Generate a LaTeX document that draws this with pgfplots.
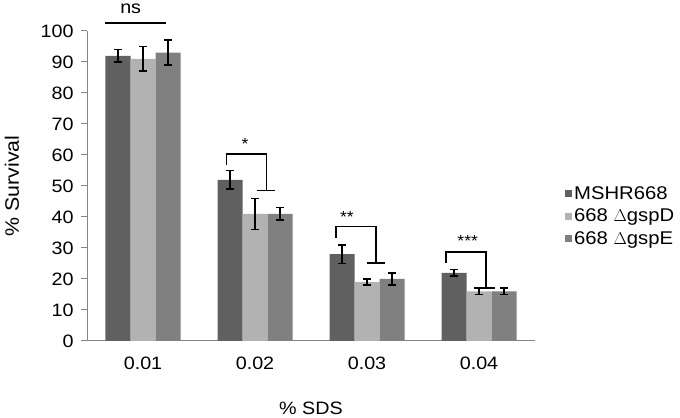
\documentclass[border=0pt]{standalone}
\usepackage{pgfplots}
\pgfplotsset{compat=1.18}
\usepackage{pgfplotstable}
\usepackage{fontspec}
\setmainfont{Liberation Sans}[FakeStretch=1.1]

\definecolor{cdark}{RGB}{96,96,96}
\definecolor{clight}{RGB}{178,178,178}
\definecolor{cmid}{RGB}{128,128,128}
\definecolor{caxis}{RGB}{134,134,134}

% x, mean, error
\pgfplotstableread{
x y e
0 92 2
1 52 3
2 28 3
3 22 1
}\mshr
\pgfplotstableread{
x y e
0 91 4
1 41 5
2 19 1
3 16 1
}\gspD
\pgfplotstableread{
x y e
0 93 4
1 41 2
2 20 2
3 16 1
}\gspE

\begin{document}
\begin{tikzpicture}
\useasboundingbox (0,0) rectangle (680bp,418bp);
\begin{axis}[
  at={(87bp,77bp)}, anchor=south west,
  scale only axis, width=448bp, height=310bp,
  /pgf/number format/assume math mode=true,
  ybar=0pt, bar width=25bp,
  xmin=-0.5, xmax=3.5, ymin=0, ymax=100,
  xtick={0,1,2,3}, xticklabels={0.01,0.02,0.03,0.04},
  ytick={0,10,...,100},
  axis lines*=left, axis line style={caxis, line width=1bp},
  tick align=outside, major tick length=6bp,
  ytick style={caxis, line width=1bp},
  xtick style={draw=none},
  extra x ticks={-0.5,0.5,1.5,2.5,3.5}, extra x tick labels={},
  extra x tick style={xtick style={caxis, line width=1bp}},
  tick label style={font=\fontsize{18}{21}\selectfont},
  xticklabel style={anchor=center, yshift=-16bp},
  yticklabel style={anchor=east, xshift=-4bp},
  xlabel={\% SDS}, ylabel={\% Survival},
  every axis x label/.style={at={(rel axis cs:0.5,0)}, yshift=-67bp, anchor=center,
    font=\fontsize{18}{21}\selectfont},
  every axis y label/.style={at={(rel axis cs:0,0.5)}, xshift=-75bp, rotate=90, anchor=center,
    font=\fontsize{19.5}{22}\selectfont},
  clip=false,
  error bars/error bar style={black, line width=1.6bp},
  error bars/error mark options={black, line width=1.6bp, rotate=90, mark size=4bp},
  legend style={at={(1,0.403)}, anchor=west, xshift=30bp, draw=none, fill=none,
    font=\fontsize{18.5}{22}\selectfont, row sep=4bp, inner xsep=0bp,
    /tikz/every even column/.append style={column sep=5bp}},
  legend cell align=left,
  legend image code/.code={\fill[#1] (0bp,-3.5bp) rectangle (7bp,3.5bp);},
]
\addplot[fill=cdark, draw=none, error bars/.cd, y dir=both, y explicit]
  table[x=x, y=y, y error=e] {\mshr};
\addlegendentry{MSHR668}
\addplot[fill=clight, draw=none, error bars/.cd, y dir=both, y explicit]
  table[x=x, y=y, y error=e] {\gspD};
\addlegendentry{668 $\Delta$gspD}
\addplot[fill=cmid, draw=none, error bars/.cd, y dir=both, y explicit]
  table[x=x, y=y, y error=e] {\gspE};
\addlegendentry{668 $\Delta$gspE}

% significance brackets
\draw[line width=1.6bp] (axis cs:-0.339,102.5) -- (axis cs:0.205,102.5);
\node[font=\fontsize{18}{20}\selectfont] at (axis cs:-0.110,107.3) {ns};

\draw[line width=1.6bp] (axis cs:0.744,56.8) -- (axis cs:0.744,60.3) -- (axis cs:1.104,60.3) -- (axis cs:1.104,48.5);
\draw[line width=1.6bp] (axis cs:1.021,48.5) -- (axis cs:1.181,48.5);
\node[font=\fontsize{16}{18}\selectfont] at (axis cs:0.911,63.4) {*};

\draw[line width=1.6bp] (axis cs:1.721,33.3) -- (axis cs:1.721,36.9) -- (axis cs:2.078,36.9) -- (axis cs:2.078,25.1);
\draw[line width=1.6bp] (axis cs:1.997,25.1) -- (axis cs:2.161,25.1);
\node[font=\fontsize{16}{18}\selectfont] at (axis cs:1.821,40.0) {**};

\draw[line width=1.6bp] (axis cs:2.703,25.1) -- (axis cs:2.703,28.8) -- (axis cs:3.060,28.8) -- (axis cs:3.060,17);
\draw[line width=1.6bp] (axis cs:2.955,17) -- (axis cs:3.143,17);
\node[font=\fontsize{16}{18}\selectfont] at (axis cs:2.899,32.2) {***};
\end{axis}
\end{tikzpicture}
\end{document}
